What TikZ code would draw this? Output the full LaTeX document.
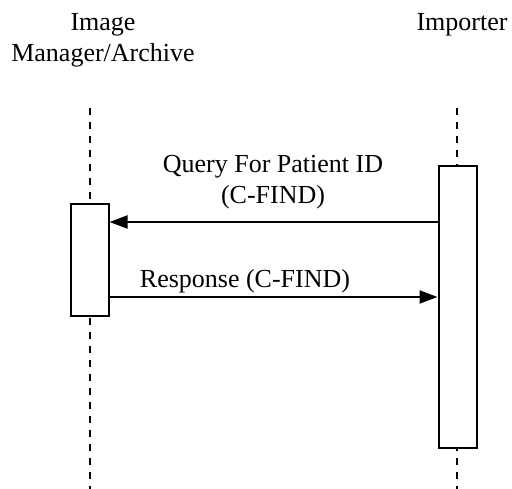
\documentclass[tikz,border=0pt]{standalone}
\usepackage{fontspec}
\setmainfont{Liberation Serif}
\usetikzlibrary{arrows.meta,positioning}
\tikzset{>={Triangle[length=18pt,width=13pt]}}
\tikzset{
  lbl/.style={inner sep=0pt, font=\fontsize{26}{31}\selectfont, align=center},
  actbox/.style={draw, line width=2pt, fill=white, inner sep=0pt, minimum width=38pt},
  lifeline/.style={line width=2pt, dash pattern=on 7pt off 7pt},
  msg/.style={->, line width=2pt}
}

\begin{document}
\begin{tikzpicture}[x=1pt,y=-1pt]
  \useasboundingbox (0,0) rectangle (512,489);

  % actors
  \node[lbl, anchor=north] (ima) at (103,13) {Image\\Manager/Archive};
  \node[lbl, anchor=north] (imp) at (462,13) {Importer};

  % lifelines
  \coordinate (imatop) at (90,108);
  \coordinate (imabot) at (90,489);
  \coordinate (imptop) at (457,108);
  \coordinate (impbot) at (457,489);
  \draw[lifeline] (imatop) -- (imabot);
  \draw[lifeline] (imptop) -- (impbot);

  % activations
  \node[actbox, minimum height=112pt] (imabox) at (89.5,260) {};
  \node[actbox, minimum height=282pt] (impbox) at (457.5,307) {};

  % messages
  \coordinate (q) at (0,222);
  \coordinate (r) at (0,297);
  \draw[msg] (impbox.west |- q) -- (imabox.east |- q);
  \draw[msg] (imabox.east |- r) -- (impbox.west |- r);
  \node[lbl, anchor=north] (qlbl) at (273,155) {Query For Patient ID\\(C-FIND)};
  \node[lbl, anchor=north] (rlbl) at (245,269) {Response (C-FIND)};
\end{tikzpicture}
\end{document}
